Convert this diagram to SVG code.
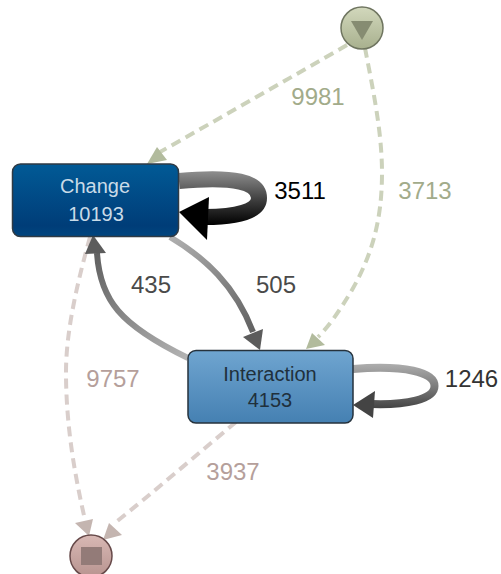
<svg xmlns="http://www.w3.org/2000/svg" width="501" height="574" viewBox="0 0 501 574">
<defs>
<linearGradient id="gc" x1="0" y1="0" x2="0" y2="1"><stop offset="0" stop-color="#015a96"/><stop offset="0.85" stop-color="#003d78"/><stop offset="1" stop-color="#00457f"/></linearGradient>
<linearGradient id="gi" x1="0" y1="0" x2="0" y2="1"><stop offset="0" stop-color="#6fa5d0"/><stop offset="1" stop-color="#4580b2"/></linearGradient>
<linearGradient id="gs" x1="0" y1="0" x2="0" y2="1"><stop offset="0" stop-color="#d2d8bc"/><stop offset="1" stop-color="#a8b08e"/></linearGradient>
<linearGradient id="ge" x1="0" y1="0" x2="0" y2="1"><stop offset="0" stop-color="#d8b8b4"/><stop offset="1" stop-color="#b89490"/></linearGradient>
<linearGradient id="l1" gradientUnits="userSpaceOnUse" x1="0" y1="173" x2="0" y2="225"><stop offset="0" stop-color="#8a8a8a"/><stop offset="0.55" stop-color="#3a3a3a"/><stop offset="1" stop-color="#000"/></linearGradient>
<linearGradient id="l2" gradientUnits="userSpaceOnUse" x1="0" y1="365" x2="0" y2="408"><stop offset="0" stop-color="#ababab"/><stop offset="0.55" stop-color="#777"/><stop offset="1" stop-color="#444"/></linearGradient>
<linearGradient id="l3" gradientUnits="userSpaceOnUse" x1="170" y1="237" x2="255" y2="335"><stop offset="0" stop-color="#b0b0b0"/><stop offset="1" stop-color="#5f5f5f"/></linearGradient>
<linearGradient id="l4" gradientUnits="userSpaceOnUse" x1="188" y1="360" x2="96" y2="250"><stop offset="0" stop-color="#b4b4b4"/><stop offset="1" stop-color="#5f5f5f"/></linearGradient>
</defs>
<style>
text{font-family:"Liberation Sans",Arial,sans-serif;text-anchor:middle}
.lbl{font-size:24px}
.nd{font-size:20px}
.dg{fill:none;stroke:#ccd2bb;stroke-width:4;stroke-dasharray:10 6}
.dr{fill:none;stroke:#d9cecb;stroke-width:4;stroke-dasharray:10 6}
.ag{fill:#b2bb9d}
.ar{fill:#c4b5b0}
</style>
<g id="connectors">
<path class="dg" d="M347 45C290 78 220 118 160 152"/>
<polygon class="ag" points="147,164 157,147 167,160"/>
<path class="dg" d="M365 48C372 85 382 130 382 173C382 220 372 255 352 290C340 310 330 325 318 337"/>
<polygon class="ag" points="306,349 312,333 325,345"/>
<path class="dr" d="M90 237C78 280 66 330 66 372C66 430 76 480 85 520"/>
<polygon class="ar" points="89,536 75,523 93,519"/>
<path class="dr" d="M236 422C200 452 150 495 116 522"/>
<polygon class="ar" points="103,540 109,523 122,535"/>
<path d="M170 237C205 258 235 285 253 332" fill="none" stroke="url(#l3)" stroke-width="6"/>
<polygon points="260,350 243,337 263,329" fill="#5c5c5c"/>
<path d="M188 358C120 325 100 300 97 253" fill="none" stroke="url(#l4)" stroke-width="6"/>
<polygon points="93,235 85,254 106,253" fill="#5c5c5c"/>
<path d="M179 181C235 176 259 182 259 198C259 212 235 217 205 217" fill="none" stroke="url(#l1)" stroke-width="16"/>
<polygon points="179,212 209,197 207,240" fill="#000"/>
<path d="M353 369C405 365 434.500 372 434.500 386C434.500 400 405 405 372 404" fill="none" stroke="url(#l2)" stroke-width="8"/>
<polygon points="353,405 375,391 373,418" fill="#444"/>
</g>
<g id="start"><circle cx="362" cy="28" r="21" fill="url(#gs)" stroke="#6f7560" stroke-width="1.500"/><polygon points="351,21 373,21 362,40" fill="#868c72"/></g>
<g id="end"><circle cx="91" cy="556" r="21" fill="url(#ge)" stroke="#674a4a" stroke-width="1.500"/><rect x="81" y="547" width="21" height="18" fill="#937b78"/></g>
<g id="change"><rect x="12.500" y="164" width="166" height="72.500" rx="8" fill="url(#gc)" stroke="#2f3a44" stroke-width="1.500"/><text class="nd" x="95" y="193" fill="#c9dbe8">Change</text><text class="nd" x="96" y="221" fill="#c9dbe8">10193</text></g>
<g id="interaction"><rect x="188" y="350.500" width="165" height="72.500" rx="8" fill="url(#gi)" stroke="#26323c" stroke-width="1.500"/><text class="nd" x="270" y="381" fill="#20303c">Interaction</text><text class="nd" x="270" y="407" fill="#20303c">4153</text></g>
<g id="labels">
<text class="lbl" x="318" y="105" fill="#a2ab8a">9981</text>
<text class="lbl" x="425" y="199" fill="#a2ab8a">3713</text>
<text class="lbl" x="300" y="199" fill="#000">3511</text>
<text class="lbl" x="151" y="293" fill="#4a4a4a">435</text>
<text class="lbl" x="276" y="293" fill="#4a4a4a">505</text>
<text class="lbl" x="113" y="387" fill="#b59f9b">9757</text>
<text class="lbl" x="471.500" y="387" fill="#333">1246</text>
<text class="lbl" x="233" y="480" fill="#b59f9b">3937</text>
</g>
</svg>
